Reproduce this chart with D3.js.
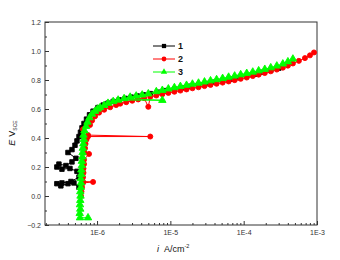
<!DOCTYPE html>
<html>
<head>
<meta charset="utf-8">
<script src="https://cdn.jsdelivr.net/npm/d3@7"></script>
<style>
    body { margin: 0; background: #fff; }
    #chart { width: 340px; height: 260px; }
    .axis text { font-family: "Liberation Sans", Arial, sans-serif; font-size: 7px; fill: #333; }
    .axis path, .axis line { stroke: #333; }
</style>
</head>
<body>
<div id="chart"></div>
<script>
// current density i (A/cm2), potential E (V vs SCE), in recorded order
let curve1 = [
    [5.67e-7, 0.06], [4.84e-7, 0.09], [4.01e-7, 0.085], [3.21e-7, 0.07], [2.83e-7, 0.085],
    [3.32e-7, 0.09], [4.41e-7, 0.10], [5.67e-7, 0.13], [5.32e-7, 0.17], [4.27e-7, 0.19],
    [3.32e-7, 0.185], [2.83e-7, 0.20], [3.02e-7, 0.22], [3.76e-7, 0.21], [4.55e-7, 0.235],
    [5.15e-7, 0.26], [4.01e-7, 0.30], [4.55e-7, 0.32], [5.00e-7, 0.35], [5.32e-7, 0.38],
    [5.67e-7, 0.41], [5.94e-7, 0.44], [6.23e-7, 0.47], [6.64e-7, 0.50], [7.18e-7, 0.53],
    [7.89e-7, 0.56], [8.82e-7, 0.585], [1.03e-6, 0.61], [1.21e-6, 0.627], [1.41e-6, 0.64],
    [1.66e-6, 0.652], [2.00e-6, 0.663], [2.42e-6, 0.673], [2.92e-6, 0.682], [3.53e-6, 0.69],
    [4.27e-6, 0.698], [5.32e-6, 0.706], [6.85e-6, 0.716], [8.82e-6, 0.727], [1.135e-5, 0.737],
    [1.46e-5, 0.747], [1.88e-5, 0.757], [2.42e-5, 0.766], [3.11e-5, 0.775], [4.01e-5, 0.785],
    [5.16e-5, 0.795], [6.64e-5, 0.805], [8.55e-5, 0.816], [1.10e-4, 0.828], [1.42e-4, 0.84],
    [1.82e-4, 0.853], [2.34e-4, 0.867], [3.01e-4, 0.882]
];

let curve2 = [
    [6.04e-7, 0.00], [6.13e-7, 0.03], [6.23e-7, 0.06], [6.43e-7, 0.09], [8.82e-7, 0.097],
    [6.43e-7, 0.10], [6.43e-7, 0.13], [6.53e-7, 0.16], [6.53e-7, 0.19], [6.64e-7, 0.22],
    [6.64e-7, 0.25], [7.77e-7, 0.29], [6.74e-7, 0.30], [6.85e-7, 0.33], [6.96e-7, 0.36],
    [7.18e-7, 0.39], [7.53e-7, 0.41], [5.32e-6, 0.41], [7.53e-7, 0.42], [6.43e-7, 0.46],
    [8.02e-7, 0.49], [8.55e-7, 0.52], [9.39e-7, 0.55], [1.065e-6, 0.575], [1.25e-6, 0.595],
    [1.51e-6, 0.612], [1.82e-6, 0.627], [2.07e-6, 0.637], [2.50e-6, 0.647], [3.02e-6, 0.657],
    [3.64e-6, 0.666], [4.40e-6, 0.675], [5.00e-6, 0.615], [5.32e-6, 0.684], [6.43e-6, 0.693],
    [7.77e-6, 0.702], [9.39e-6, 0.711], [1.135e-5, 0.719], [1.37e-5, 0.727], [1.66e-5, 0.735],
    [2.00e-5, 0.743], [2.42e-5, 0.75], [2.92e-5, 0.758], [3.53e-5, 0.766], [4.27e-5, 0.774],
    [5.16e-5, 0.782], [6.23e-5, 0.79], [7.53e-5, 0.799], [9.10e-5, 0.808], [1.10e-4, 0.817],
    [1.33e-4, 0.827], [1.60e-4, 0.837], [1.94e-4, 0.848], [2.34e-4, 0.86], [2.83e-4, 0.872],
    [3.42e-4, 0.885], [4.01e-4, 0.899], [4.69e-4, 0.914], [5.66e-4, 0.932], [6.85e-4, 0.951],
    [8.02e-4, 0.97], [9.10e-4, 0.99]
];

let curve3 = [
    [7.53e-7, -0.15], [5.85e-7, -0.15], [5.80e-7, -0.12], [5.90e-7, -0.09], [5.85e-7, -0.06],
    [5.90e-7, -0.03], [5.95e-7, 0.00], [5.90e-7, 0.03], [6.00e-7, 0.06], [6.05e-7, 0.09],
    [6.00e-7, 0.12], [6.10e-7, 0.15], [6.10e-7, 0.18], [6.20e-7, 0.21], [6.20e-7, 0.24],
    [6.30e-7, 0.27], [6.35e-7, 0.30], [6.40e-7, 0.33], [6.50e-7, 0.36], [6.60e-7, 0.39],
    [6.53e-7, 0.42], [6.74e-7, 0.45], [7.07e-7, 0.48], [7.41e-7, 0.51], [7.89e-7, 0.54],
    [8.55e-7, 0.565], [9.39e-7, 0.585], [1.016e-6, 0.60], [1.10e-6, 0.61], [1.25e-6, 0.625],
    [1.41e-6, 0.64], [1.66e-6, 0.652], [1.94e-6, 0.662], [7.77e-6, 0.66], [2.34e-6, 0.672],
    [2.83e-6, 0.682], [3.42e-6, 0.69], [4.13e-6, 0.697], [5.00e-6, 0.705], [6.43e-6, 0.72],
    [7.77e-6, 0.729], [9.39e-6, 0.739], [1.135e-5, 0.748], [1.37e-5, 0.756], [1.66e-5, 0.764],
    [2.00e-5, 0.772], [2.42e-5, 0.779], [2.92e-5, 0.787], [3.53e-5, 0.795], [4.27e-5, 0.803],
    [5.16e-5, 0.811], [6.23e-5, 0.82], [7.53e-5, 0.828], [9.10e-5, 0.837], [1.10e-4, 0.846],
    [1.33e-4, 0.855], [1.60e-4, 0.864], [1.94e-4, 0.874], [2.34e-4, 0.885], [2.83e-4, 0.897],
    [3.42e-4, 0.911], [4.01e-4, 0.926], [4.69e-4, 0.945]
];

let seriesNames = ["1", "2", "3"];
let seriesColors = ["#000000", "#ff0000", "#00ff00"];

let xMajorTicks = [1e-6, 1e-5, 1e-4, 1e-3];
let xMinorTicks = [2e-7, 3e-7, 4e-7, 5e-7, 6e-7, 7e-7, 8e-7, 9e-7,
    2e-6, 3e-6, 4e-6, 5e-6, 6e-6, 7e-6, 8e-6, 9e-6,
    2e-5, 3e-5, 4e-5, 5e-5, 6e-5, 7e-5, 8e-5, 9e-5,
    2e-4, 3e-4, 4e-4, 5e-4, 6e-4, 7e-4, 8e-4, 9e-4];
let yMajorTicks = [-0.2, 0.0, 0.2, 0.4, 0.6, 0.8, 1.0, 1.2];
let yMinorTicks = [-0.1, 0.1, 0.3, 0.5, 0.7, 0.9, 1.1];


class PolarizationChart {
    constructor(parentElement, curves) {
        this.parentElement = parentElement;
        this.curves = curves;
        this.initVis();
    }

    initVis() {
        let vis = this;

        vis.margin = {top: 22, right: 23, bottom: 35, left: 45};
        vis.width = 340 - vis.margin.left - vis.margin.right;
        vis.height = 260 - vis.margin.top - vis.margin.bottom;

        vis.svg = d3.select("#" + vis.parentElement).append("svg")
            .attr("width", 340)
            .attr("height", 260)
            .append("g")
            .attr("transform", "translate(" + vis.margin.left + "," + vis.margin.top + ")");

        vis.x = d3.scaleLog()
            .domain([Math.pow(10, -6.71), 1e-3])
            .range([0, vis.width]);

        vis.y = d3.scaleLinear()
            .domain([-0.2, 1.2])
            .range([vis.height, 0]);

        // minor ticks first, majors on top
        vis.svg.append("g")
            .attr("class", "axis")
            .attr("transform", `translate(0,${vis.height})`)
            .call(d3.axisBottom(vis.x).tickValues(xMinorTicks).tickSize(-2).tickSizeOuter(0).tickFormat(""));

        vis.svg.append("g")
            .attr("class", "axis")
            .attr("transform", `translate(0,${vis.height})`)
            .call(d3.axisBottom(vis.x).tickValues(xMajorTicks).tickSize(-4).tickSizeOuter(0).tickPadding(5)
                .tickFormat(d => "1E" + Math.round(Math.log10(d))));

        vis.svg.append("g")
            .attr("class", "axis")
            .call(d3.axisLeft(vis.y).tickValues(yMinorTicks).tickSize(-2).tickSizeOuter(0).tickFormat(""));

        vis.svg.append("g")
            .attr("class", "axis")
            .call(d3.axisLeft(vis.y).tickValues(yMajorTicks).tickSize(-4).tickSizeOuter(0).tickPadding(4)
                .tickFormat(d3.format(".1f")));

        vis.svg.selectAll(".axis .domain").remove();

        vis.svg.append("rect")
            .attr("width", vis.width)
            .attr("height", vis.height)
            .attr("fill", "none")
            .attr("stroke", "#333")
            .attr("stroke-width", 1);

        vis.symbols = [d3.symbolSquare, d3.symbolCircle, d3.symbolTriangle];
        vis.symbolSizes = [20, 20, 24];

        vis.line = d3.line()
            .x(d => vis.x(d[0]))
            .y(d => vis.y(d[1]));

        // axis titles
        let xTitle = vis.svg.append("text")
            .attr("x", 112)
            .attr("y", 230)
            .style("font-family", "Liberation Sans, Arial, sans-serif")
            .style("font-size", "9px")
            .attr("fill", "#111");
        xTitle.append("tspan").style("font-style", "italic").text("i");
        xTitle.append("tspan").attr("dx", 5).text("A/cm");
        xTitle.append("tspan").attr("dy", -4).style("font-size", "5.5px").text("-2");

        let yTitle = vis.svg.append("text")
            .attr("transform", "translate(-30,111) rotate(-90)")
            .attr("text-anchor", "middle")
            .style("font-family", "Liberation Sans, Arial, sans-serif")
            .style("font-size", "9px")
            .attr("fill", "#111");
        yTitle.append("tspan").style("font-style", "italic").text("E");
        yTitle.append("tspan").attr("dx", 3).text("V");
        yTitle.append("tspan").attr("dy", 2).style("font-size", "5px").text("SCE");

        this.updateVis();
    }

    updateVis() {
        let vis = this;

        vis.curves.forEach(function(curve, k) {
            let g = vis.svg.append("g").attr("class", "series-" + k);

            g.append("path")
                .datum(curve)
                .attr("d", vis.line)
                .attr("fill", "none")
                .attr("stroke", seriesColors[k])
                .attr("stroke-width", 1);

            g.selectAll(".pt")
                .data(curve)
                .enter().append("path")
                .attr("class", "pt")
                .attr("transform", d => `translate(${vis.x(d[0])},${vis.y(d[1])})`)
                .attr("d", d3.symbol().type(vis.symbols[k]).size(vis.symbolSizes[k]))
                .attr("fill", seriesColors[k])
                .attr("stroke", seriesColors[k])
                .attr("stroke-width", 0.9)
                .attr("stroke-linejoin", "round");
        });

        // legend
        let legend = vis.svg.append("g")
            .attr("transform", "translate(108,24)");

        let items = legend.selectAll(".legend-item")
            .data(seriesNames)
            .enter().append("g")
            .attr("class", "legend-item")
            .attr("transform", (d, i) => `translate(0,${i * 13})`);

        items.append("line")
            .attr("x1", 0)
            .attr("x2", 22)
            .attr("stroke", (d, i) => seriesColors[i])
            .attr("stroke-width", 1);

        items.append("path")
            .attr("transform", "translate(11,0)")
            .attr("d", (d, i) => d3.symbol().type(vis.symbols[i]).size(18)())
            .attr("fill", (d, i) => seriesColors[i]);

        items.append("text")
            .attr("x", 25)
            .attr("dy", "0.35em")
            .style("font-family", "Liberation Sans, Arial, sans-serif")
            .style("font-size", "9px")
            .style("font-weight", "bold")
            .attr("fill", "#111")
            .text(d => d);
    }
}

new PolarizationChart("chart", [curve1, curve2, curve3]);
</script>
</body>
</html>
